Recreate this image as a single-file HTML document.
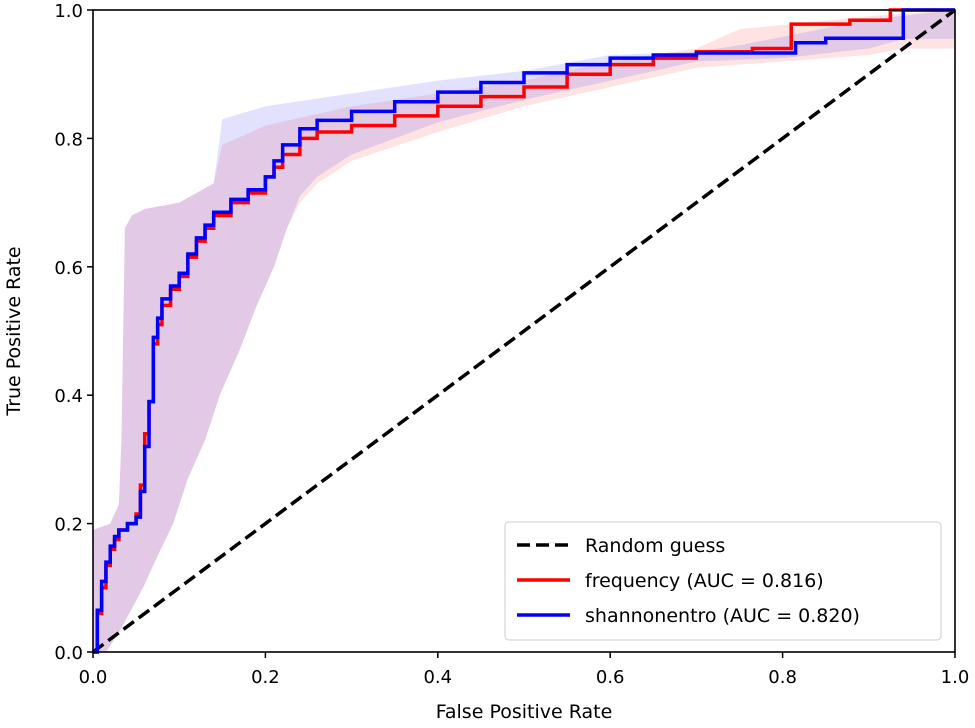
<!DOCTYPE html>
<html><head><meta charset="utf-8"><style>
body{margin:0;background:#fff}
svg text{font-family:"DejaVu Sans","Liberation Sans",sans-serif;fill:#000}
</style></head><body>
<svg id="chart" width="975" height="723" xmlns="http://www.w3.org/2000/svg">
<g id="bands"></g>
<g id="lines"></g>
<rect x="93" y="10" width="862" height="642" fill="none" stroke="#000" stroke-width="1.6"/>
<g id="ticks"></g>
<text x="524" y="718" font-size="19" text-anchor="middle">False Positive Rate</text>
<text transform="translate(20,331) rotate(-90)" font-size="19" text-anchor="middle">True Positive Rate</text>
<g>
<rect x="505" y="522" width="436" height="118" rx="4" fill="#fff" fill-opacity="0.85" stroke="#ccc"/>
<line x1="517" y1="545" x2="570" y2="545" stroke="#000" stroke-width="3.5" stroke-dasharray="13,6"/>
<text x="585" y="552" font-size="19">Random guess</text>
<line x1="517" y1="580" x2="570" y2="580" stroke="#f00" stroke-width="3.5"/>
<text x="585" y="587" font-size="19">frequency (AUC = 0.816)</text>
<line x1="517" y1="615" x2="570" y2="615" stroke="#00f" stroke-width="3.5"/>
<text x="585" y="622" font-size="19">shannonentro (AUC = 0.820)</text>
</g>
</svg>
<script>
const xTicks=[0,0.2,0.4,0.6,0.8,1.0];
const yTicks=[0,0.2,0.4,0.6,0.8,1.0];
const freqFpr=[0,0.005,0.01,0.015,0.02,0.025,0.03,0.04,0.05,0.055,0.06,0.065,0.07,0.075,0.08,0.09,0.1,0.11,0.12,0.13,0.14,0.16,0.18,0.2,0.21,0.22,0.24,0.26,0.3,0.35,0.4,0.45,0.5,0.55,0.6,0.65,0.7,0.765,0.81,0.878,0.925,1];
const freqTpr=[0,0.06,0.1,0.135,0.16,0.175,0.19,0.2,0.215,0.26,0.34,0.39,0.48,0.51,0.54,0.565,0.585,0.615,0.64,0.66,0.68,0.7,0.715,0.74,0.755,0.775,0.8,0.81,0.82,0.835,0.85,0.865,0.88,0.9,0.915,0.925,0.935,0.94,0.978,0.984,1,1];
const shanFpr=[0,0.005,0.01,0.015,0.02,0.025,0.03,0.04,0.05,0.055,0.06,0.065,0.07,0.075,0.08,0.09,0.1,0.11,0.12,0.13,0.14,0.16,0.18,0.2,0.21,0.22,0.24,0.26,0.3,0.35,0.4,0.45,0.5,0.55,0.6,0.65,0.7,0.815,0.85,0.94,1];
const shanTpr=[0,0.065,0.11,0.14,0.165,0.18,0.19,0.2,0.21,0.25,0.32,0.39,0.49,0.52,0.55,0.57,0.59,0.62,0.645,0.665,0.685,0.705,0.72,0.74,0.765,0.79,0.815,0.828,0.842,0.857,0.872,0.887,0.902,0.915,0.925,0.93,0.933,0.949,0.956,1,1];
const bandUpFpr=[0,0.02,0.03,0.033,0.037,0.045,0.06,0.1,0.14,0.15,0.2,0.3,0.4,0.5,0.6,0.7,0.75,0.9,1];
const freqBandUp=[0.19,0.2,0.23,0.33,0.66,0.68,0.69,0.7,0.73,0.79,0.82,0.85,0.87,0.89,0.92,0.94,0.97,0.99,1];
const shanBandUp=[0.19,0.2,0.23,0.33,0.66,0.68,0.69,0.7,0.73,0.83,0.85,0.87,0.89,0.905,0.93,0.935,0.945,0.985,1];
const bandLoFpr=[0,0.015,0.03,0.058,0.075,0.093,0.11,0.13,0.147,0.17,0.19,0.21,0.225,0.24,0.26,0.3,0.4,0.5,0.6,0.7,0.8,0.9,0.94,1];
const freqBandLo=[0,0,0.03,0.1,0.15,0.2,0.27,0.33,0.4,0.47,0.54,0.6,0.66,0.7,0.73,0.765,0.81,0.85,0.88,0.91,0.92,0.93,0.94,0.94];
const shanBandLo=[0,0,0.03,0.1,0.15,0.2,0.27,0.33,0.4,0.47,0.54,0.6,0.66,0.71,0.74,0.775,0.825,0.86,0.89,0.92,0.925,0.94,0.955,0.955];
const X0=93,X1=955,Y0=652,Y1=10;
function sx(v){return X0+v*(X1-X0);}
function sy(v){return Y0-v*(Y0-Y1);}
const NS='http://www.w3.org/2000/svg';
function mk(tag,parent){const e=document.createElementNS(NS,tag);parent.appendChild(e);return e;}
const bands=document.getElementById('bands'),lines=document.getElementById('lines'),ticks=document.getElementById('ticks');
function band(upX,up,loX,lo,color,name){
  let d='M'+upX.map((x,i)=>sx(x)+','+sy(up[i])).join('L');
  for(let i=loX.length-1;i>=0;i--)d+='L'+sx(loX[i])+','+sy(lo[i]);
  const p=mk('path',bands);p.setAttribute('d',d+'Z');p.setAttribute('fill',color);
  
  
}
band(bandUpFpr,freqBandUp,bandLoFpr,freqBandLo,'rgba(255,60,60,0.15)','frequency-band');
band(bandUpFpr,shanBandUp,bandLoFpr,shanBandLo,'rgba(60,60,255,0.15)','shannonentro-band');
const diag=mk('line',lines);
diag.setAttribute('x1',sx(0));diag.setAttribute('y1',sy(0));diag.setAttribute('x2',sx(1));diag.setAttribute('y2',sy(1));
diag.setAttribute('stroke','#000');diag.setAttribute('stroke-width','3.5');diag.setAttribute('stroke-dasharray','13,6');


function curve(fx,ty,color,name){
  let d='M'+sx(fx[0])+','+sy(ty[0]);
  for(let i=1;i<fx.length;i++){d+='H'+sx(fx[i])+'V'+sy(ty[i]);}
  const p=mk('path',lines);p.setAttribute('d',d);p.setAttribute('fill','none');p.setAttribute('stroke',color);p.setAttribute('stroke-width','3.5');
  
  
}
curve(freqFpr,freqTpr,'#f00','frequency-curve');
curve(shanFpr,shanTpr,'#00f','shannonentro-curve');
xTicks.forEach(v=>{
  const l=mk('line',ticks);l.setAttribute('x1',sx(v));l.setAttribute('x2',sx(v));l.setAttribute('y1',Y0);l.setAttribute('y2',Y0+6);l.setAttribute('stroke','#000');l.setAttribute('stroke-width','1.5');
  
  
  const t=mk('text',ticks);t.setAttribute('x',sx(v));t.setAttribute('y',Y0+31);t.setAttribute('font-size','18');t.setAttribute('text-anchor','middle');t.textContent=v.toFixed(1);
  
  
});
yTicks.forEach(v=>{
  const l=mk('line',ticks);l.setAttribute('x1',X0-6);l.setAttribute('x2',X0);l.setAttribute('y1',sy(v));l.setAttribute('y2',sy(v));l.setAttribute('stroke','#000');l.setAttribute('stroke-width','1.5');
  
  
  const t=mk('text',ticks);t.setAttribute('x',X0-10);t.setAttribute('y',sy(v)+7);t.setAttribute('font-size','18');t.setAttribute('text-anchor','end');t.textContent=v.toFixed(1);
  
  
});
</script>
</body></html>
